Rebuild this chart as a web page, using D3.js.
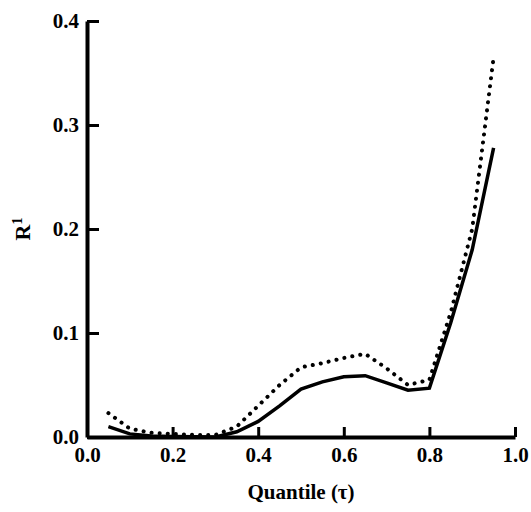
<!DOCTYPE html><html><head><script src="https://cdn.jsdelivr.net/npm/d3@7"></script>
<style>body{margin:0;background:#fff} text{font-family:"Times New Roman","Liberation Serif","DejaVu Serif",serif !important;font-weight:bold}</style></head><body><svg id="c" width="531" height="512"></svg>
<script>
const quantiles=[0.05,0.1,0.15,0.2,0.25,0.3,0.35,0.4,0.45,0.5,0.55,0.6,0.65,0.7,0.75,0.8,0.85,0.9,0.95];
const solid=[0.01,0.003,0.001,0.0005,0.0003,0.0,0.005,0.015,0.03,0.046,0.053,0.058,0.059,0.052,0.045,0.047,0.11,0.18,0.278];
const dotted=[0.023,0.008,0.004,0.003,0.002,0.002,0.01,0.03,0.05,0.067,0.071,0.076,0.08,0.066,0.05,0.055,0.12,0.2,0.365];
const xTicks=[0,0.2,0.4,0.6,0.8,1.0];
const yTicks=[0,0.1,0.2,0.3,0.4];
const svg=d3.select("#c");
const x=d3.scaleLinear().domain([0,1]).range([87,515]);
const y=d3.scaleLinear().domain([0,0.4]).range([437,21]);
function sty(g){g.select(".domain").attr("stroke-width",4);g.selectAll("line").attr("stroke-width",3);
 g.selectAll("text").attr("font-size",21).attr("fill","#000");}
svg.append("g").attr("transform","translate(0,437)").call(d3.axisBottom(x).tickValues(xTicks).tickFormat(d3.format(".1f")).tickSizeInner(-10).tickSizeOuter(0).tickPadding(10)).call(sty);
svg.append("g").attr("transform","translate(87,0)").call(d3.axisLeft(y).tickValues(yTicks).tickFormat(d3.format(".1f")).tickSizeInner(-12).tickSizeOuter(0).tickPadding(8)).call(sty);
const line=d3.line().x((d,i)=>x(quantiles[i])).y(d=>y(d));
svg.append("path").datum(solid).attr("d",line).attr("fill","none").attr("stroke","#000").attr("stroke-width",3.5);
svg.append("path").datum(dotted).attr("d",line).attr("fill","none").attr("stroke","#000").attr("stroke-width",4).attr("stroke-dasharray","0.1 8").attr("stroke-linecap","round");
svg.append("text").attr("x",301).attr("y",499).attr("text-anchor","middle").attr("font-size",21).text("Quantile (τ)");
const yl=svg.append("text").attr("transform","translate(30,229) rotate(-90)").attr("text-anchor","middle").attr("font-size",22);
yl.append("tspan").text("R");yl.append("tspan").attr("dy",-8).attr("font-size",14).text("1");
</script></body></html>
